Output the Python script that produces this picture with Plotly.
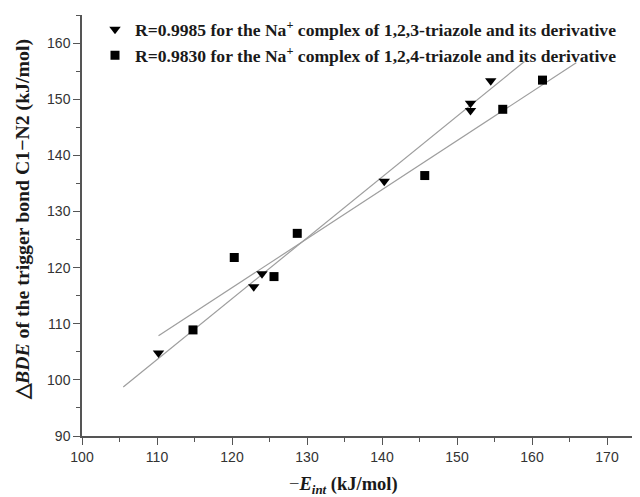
import numpy as np
import plotly.graph_objects as go

# Data
tri_x = [110.2, 122.9, 124.0, 140.3, 151.8, 151.8, 154.5]
tri_y = [104.8, 116.6, 118.9, 135.4, 149.3, 148.0, 153.3]
sq_x = [114.8, 120.3, 125.6, 128.7, 145.7, 156.1, 161.4]
sq_y = [108.9, 121.8, 118.4, 126.1, 136.4, 148.2, 153.4]

tri_fit_range = [105.5, 159.0]
sq_fit_range = [110.2, 165.9]

tri_label = "R=0.9985 for the Na<sup>+</sup> complex of 1,2,3-triazole and its derivative"
sq_label = "R=0.9830 for the Na<sup>+</sup> complex of 1,2,4-triazole and its derivative"

x_ticks = [100, 110, 120, 130, 140, 150, 160, 170]
y_ticks = [90, 100, 110, 120, 130, 140, 150, 160]

serif = "Liberation Serif, Times New Roman, serif"
sans = "Liberation Sans, Arial, sans-serif"

fig = go.Figure()

for xs, ys, rng in [(tri_x, tri_y, tri_fit_range), (sq_x, sq_y, sq_fit_range)]:
    k, b = np.polyfit(xs, ys, 1)
    lx = np.array(rng)
    fig.add_trace(go.Scatter(x=lx, y=k * lx + b, mode="lines",
                             line=dict(color="#9e9e9e", width=1.2),
                             showlegend=False, hoverinfo="skip"))

fig.add_trace(go.Scatter(x=tri_x, y=tri_y, mode="markers", name=tri_label,
                         marker=dict(symbol="triangle-down", size=10, color="black")))
fig.add_trace(go.Scatter(x=sq_x, y=sq_y, mode="markers", name=sq_label,
                         marker=dict(symbol="square", size=9, color="black")))

# The page body adds an 8px offset, so the figure is sized to fit the window.
fig.update_layout(
    width=632, height=489,
    margin=dict(l=74, r=0, t=7, b=61, autoexpand=False),
    paper_bgcolor="white", plot_bgcolor="white",
    showlegend=True,
    legend=dict(x=0.0233, y=1.0087, xanchor="left", yanchor="top",
                bgcolor="rgba(0,0,0,0)",
                font=dict(family=serif, size=17.6, color="#1a1a1a", weight="bold"),
                tracegroupgap=0, itemwidth=30),
    font=dict(family=sans, size=14, color="#333"),
)

fig.update_xaxes(range=[100, 174.4], tickvals=x_ticks, ticks="outside", ticklen=7,
                 tickwidth=1.3, tickcolor="#555", showline=True, linecolor="#555",
                 linewidth=1.5, showgrid=False, zeroline=False, automargin=False,
                 tickfont=dict(family=sans, size=14, color="#333"),
                 minor=dict(dtick=5, tick0=100, ticks="outside", ticklen=4,
                            tickcolor="#555", tickwidth=1.3, showgrid=False))
fig.update_yaxes(range=[90, 165], tickvals=y_ticks, ticks="outside", ticklen=7,
                 tickwidth=1.3, tickcolor="#555", showline=True, linecolor="#555",
                 linewidth=1.5, showgrid=False, zeroline=False, automargin=False,
                 tickfont=dict(family=sans, size=14, color="#333"),
                 minor=dict(dtick=5, tick0=90, ticks="outside", ticklen=4,
                            tickcolor="#555", tickwidth=1.3, showgrid=False))

fig.add_annotation(xref="paper", yref="paper", x=(343 - 82) / 558, y=-0.118,
                   xanchor="center", yanchor="middle", showarrow=False,
                   text="<span style='font-weight:normal'>\u2212</span><b><i>E<sub>int</sub></i> (kJ/mol)</b>",
                   font=dict(family=serif, size=18.5, color="#1a1a1a"))
fig.add_annotation(xref="paper", yref="paper", x=(22 - 82) / 558, y=0.513,
                   xanchor="center", yanchor="middle", showarrow=False, textangle=-90,
                   text="<b>\u25b3<i>BDE</i> of the trigger bond C1\u2212N2 (kJ/mol)</b>",
                   font=dict(family=serif, size=19.8, color="#1a1a1a"))

fig.write_html("out.html")
